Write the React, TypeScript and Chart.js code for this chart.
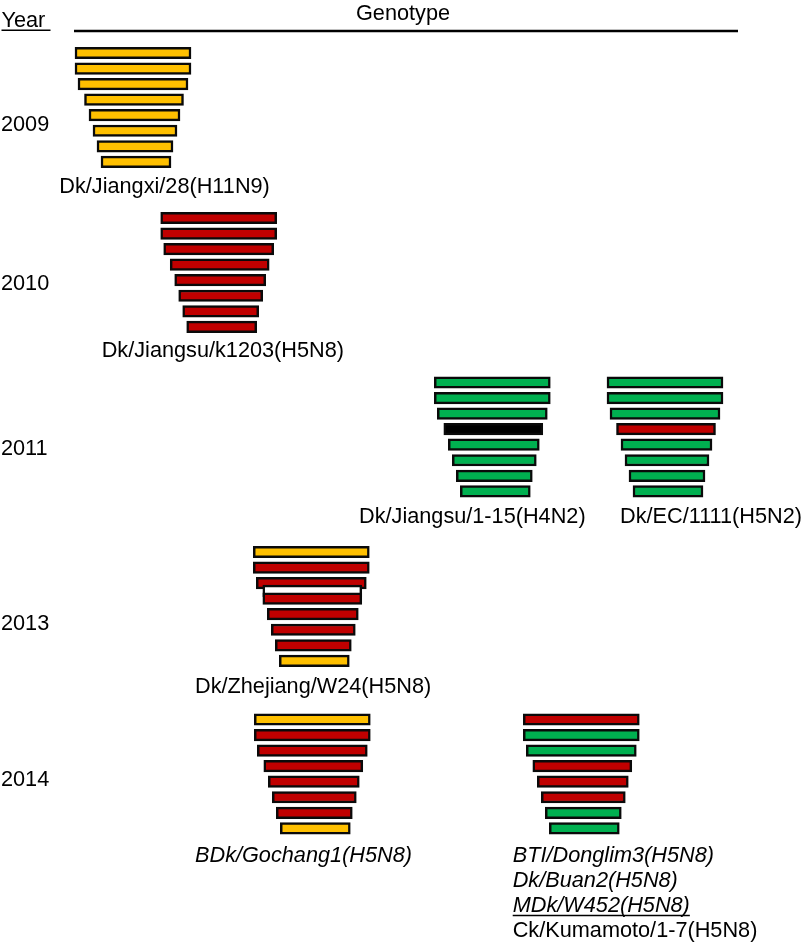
import React, { useEffect, useRef } from 'react';
import { Chart, registerables } from 'chart.js';

Chart.register(...registerables);

// ---- colours of segment lineages ----
const Y = '#FFC000';
const R = '#C00000';
const G = '#00B050';
const K = '#000000';
const W = '#FFFFFF';

// ---- data ----
const years = ['2009', '2010', '2011', '2013', '2014'];
const segmentNames = ['PB2', 'PB1', 'PA', 'HA', 'NP', 'NA', 'M', 'NS'];
const genotypeYearIndex = [0, 1, 2, 2, 3, 4, 4];
const genotypeLabels = [
  [{ t: 'Dk/Jiangxi/28(H11N9)', i: false, u: false }],
  [{ t: 'Dk/Jiangsu/k1203(H5N8)', i: false, u: false }],
  [{ t: 'Dk/Jiangsu/1-15(H4N2)', i: false, u: false }],
  [{ t: 'Dk/EC/1111(H5N2)', i: false, u: false }],
  [{ t: 'Dk/Zhejiang/W24(H5N8)', i: false, u: false }],
  [{ t: 'BDk/Gochang1(H5N8)', i: true, u: false }],
  [
    { t: 'BTI/Donglim3(H5N8)', i: true, u: false },
    { t: 'Dk/Buan2(H5N8)', i: true, u: false },
    { t: 'MDk/W452(H5N8)', i: true, u: true },
    { t: 'Ck/Kumamoto/1-7(H5N8)', i: false, u: false },
  ],
];
const genotypeSegments = [
  [Y, Y, Y, Y, Y, Y, Y, Y],
  [R, R, R, R, R, R, R, R],
  [G, G, G, K, G, G, G, G],
  [G, G, G, R, G, G, G, G],
  [Y, R, R, R, R, R, R, Y],
  [Y, R, R, R, R, R, R, Y],
  [R, G, G, R, R, R, G, G],
];
// extra (mixed) HA marker shown for Dk/Zhejiang/W24
const mixedHAGenotype = 4;
const mixedHAColor = W;

// ---- layout (chart units equal page pixels) ----
const stackLeft = [75, 160.7, 434.3, 607, 253.3, 254.3, 523.3];
const blockTop = [53, 218, 382.5, 552, 719.5];
const rowStep = 15.55;
const segStart = [0, 0, 3, 9.5, 14, 18, 22, 26];
const segEnd = [116, 116, 113, 108.5, 105, 102, 98, 96];
const labelX = [59.3, 101.7, 359, 620, 195, 195, 512.7];
const labelBaseline = [192.5, 357, 522.7, 522.7, 692.5, 862, 862];
const labelLineStep = 25;
const yearBaseline = [130.5, 290, 455, 630, 786];

const FONT = '"Liberation Sans", Arial, Helvetica, sans-serif';
const FS = 21.7;

function buildDatasets() {
  return genotypeSegments.map((cols, g) => {
    const yi = genotypeYearIndex[g];
    const data: any[] = [];
    const colors: string[] = [];
    cols.forEach((c, s) => {
      if (g === mixedHAGenotype && segmentNames[s] === 'HA') {
        data.push({ y: blockTop[yi] + (s - 0.5) * rowStep, x: [stackLeft[g] + segStart[s], stackLeft[g] + segEnd[s]] });
        colors.push(mixedHAColor);
      }
      data.push({ y: blockTop[yi] + s * rowStep, x: [stackLeft[g] + segStart[s], stackLeft[g] + segEnd[s]] });
      colors.push(c);
    });
    return {
      label: genotypeLabels[g].map((l) => l.t).join(' / '),
      data,
      backgroundColor: colors,
      borderColor: '#0a0a0a',
      borderWidth: 2.5,
      borderSkipped: false as any,
      barThickness: 11.5,
      grouped: false,
    };
  });
}

const textPlugin = {
  id: 'genoText',
  afterDatasetsDraw(chart: any) {
    const ctx = chart.ctx as CanvasRenderingContext2D;
    const xs = chart.scales.x;
    const ys = chart.scales.y;
    const px = (v: number) => xs.getPixelForValue(v);
    const py = (v: number) => ys.getPixelForValue(v);
    ctx.save();
    ctx.fillStyle = '#000';
    ctx.strokeStyle = '#000';
    ctx.textBaseline = 'alphabetic';
    ctx.textAlign = 'left';

    // header
    ctx.font = `${FS}px ${FONT}`;
    ctx.fillText('Year', px(1.5), py(26.5));
    ctx.lineWidth = 1.5;
    ctx.beginPath();
    ctx.moveTo(px(1.5), py(30.3));
    ctx.lineTo(px(50.5), py(30.3));
    ctx.stroke();
    ctx.fillText('Genotype', px(356), py(19.5));
    ctx.lineWidth = 2.5;
    ctx.beginPath();
    ctx.moveTo(px(74), py(31));
    ctx.lineTo(px(738), py(31));
    ctx.stroke();

    // years
    years.forEach((yr, i) => {
      ctx.font = `${FS}px ${FONT}`;
      ctx.fillText(yr, px(1), py(yearBaseline[i]));
    });

    // genotype names
    genotypeLabels.forEach((lines, g) => {
      lines.forEach((l, k) => {
        ctx.font = `${l.i ? 'italic ' : ''}${FS}px ${FONT}`;
        const x = px(labelX[g]);
        const y = py(labelBaseline[g] + k * labelLineStep);
        ctx.fillText(l.t, x, y);
        if (l.u) {
          const w = ctx.measureText(l.t).width;
          ctx.lineWidth = 1.3;
          ctx.beginPath();
          ctx.moveTo(x, y + 3.5);
          ctx.lineTo(x + w, y + 3.5);
          ctx.stroke();
        }
      });
    });
    ctx.restore();
  },
};

export default function App() {
  const ref = useRef<HTMLCanvasElement | null>(null);
  useEffect(() => {
    if (!ref.current) return;
    const chart = new Chart(ref.current, {
      type: 'bar',
      data: { datasets: buildDatasets() as any },
      options: {
        animation: false,
        responsive: true,
        maintainAspectRatio: false,
        indexAxis: 'y',
        layout: { padding: 0 },
        plugins: { legend: { display: false }, tooltip: { enabled: false } },
        scales: {
          x: { type: 'linear', min: 0, max: 811, offset: false, display: false },
          y: { type: 'linear', min: 0, max: 949, reverse: true, offset: false, display: false },
        },
      },
      plugins: [textPlugin],
    });
    return () => chart.destroy();
  }, []);
  return (
    <div style={{ position: 'fixed', left: 0, top: 0, width: 811, height: 949, background: '#fff' }}>
      <canvas ref={ref} />
    </div>
  );
}
